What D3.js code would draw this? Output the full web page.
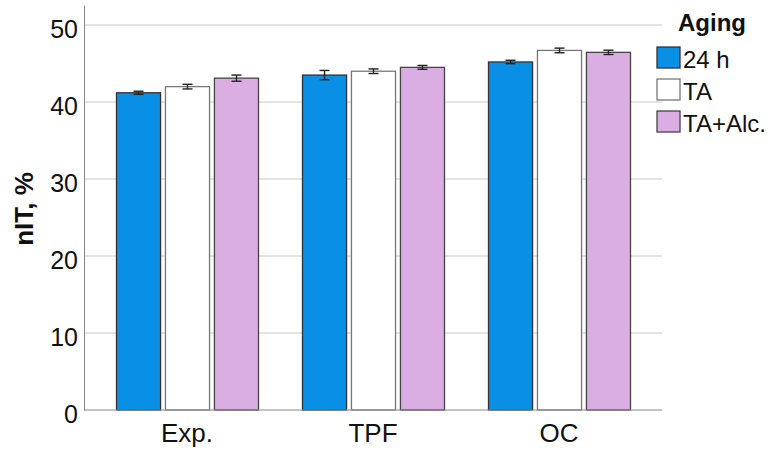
<!DOCTYPE html>
<html>
<head>
<meta charset="utf-8">
<script src="https://cdn.jsdelivr.net/npm/d3@7"></script>
<style>
  body { margin: 0; background: #fff; }
  text { font-family: "Liberation Sans", Arial, sans-serif; }
</style>
</head>
<body>
<svg width="776" height="454"></svg>
<script>
const categories = ['Exp.', 'TPF', 'OC']
const series = ['24 h', 'TA', 'TA+Alc.']
const values = [
  [41.2, 43.5, 45.2],
  [42.0, 44.0, 46.7],
  [43.1, 44.5, 46.45]
]
const errors = [
  [0.2, 0.6, 0.22],
  [0.3, 0.3, 0.3],
  [0.4, 0.25, 0.28]
]
const yTicks = [0, 10, 20, 30, 40, 50]
const colors = ['#0a8fe6', '#ffffff', '#dbaee3']
const strokes = ['#333', '#777', '#444']

const svg = d3.select('svg')
const margin = { top: 5, right: 114, bottom: 44, left: 84 },
      width = 776 - margin.left - margin.right,
      height = 454 - margin.top - margin.bottom

const chart = svg.append('g')
    .attr('transform', `translate(${margin.left},${margin.top})`)

const x0 = d3.scaleBand().domain(categories).range([10, width - 10])
const x1 = d3.scaleBand().domain(series).range([22, 164]).paddingInner(0.1)
const y = d3.scaleLinear().domain([0, 52.6]).range([height, 0])

// grid
chart.selectAll('.grid').data(yTicks.slice(1)).enter().append('line')
    .attr('x1', 0).attr('x2', width)
    .attr('y1', d => y(d)).attr('y2', d => y(d))
    .attr('stroke', '#c8c8c8').attr('stroke-width', 1)

// y labels
const yAxis = d3.axisLeft(y).tickValues(yTicks).tickSize(0).tickPadding(6)
const gy = chart.append('g').call(yAxis)
gy.select('.domain').attr('stroke', '#888')
gy.selectAll('text').attr('font-size', 25).attr('fill', '#111').attr('dy', '0.5em')
    .attr('font-family', '"Liberation Sans", Arial, sans-serif')

// bars
const rows = []
categories.forEach((c, ci) => series.forEach((s, si) => rows.push({ c, s, si, v: values[si][ci], e: errors[si][ci] })))

const g = chart.append('g')
g.selectAll('rect').data(rows).enter().append('rect')
    .attr('x', d => x0(d.c) + x1(d.s) + 0.5)
    .attr('y', d => y(d.v))
    .attr('width', x1.bandwidth())
    .attr('height', d => y(0) - y(d.v))
    .attr('fill', d => colors[d.si])
    .attr('stroke', d => strokes[d.si]).attr('stroke-width', 1.3)

// error bars
const eb = g.selectAll('.err').data(rows).enter().append('g')
    .attr('transform', d => `translate(${x0(d.c) + x1(d.s) + x1.bandwidth() / 2 + 0.5},0)`)
    .attr('stroke', '#222').attr('stroke-width', 1.4)
eb.append('line').attr('x1', 0).attr('x2', 0)
    .attr('y1', d => y(d.v + d.e)).attr('y2', d => y(d.v - d.e))
eb.append('line').attr('x1', -5).attr('x2', 5)
    .attr('y1', d => y(d.v + d.e)).attr('y2', d => y(d.v + d.e))
eb.append('line').attr('x1', -5).attr('x2', 5)
    .attr('y1', d => y(d.v - d.e)).attr('y2', d => y(d.v - d.e))

// x axis
const gx = chart.append('g').attr('transform', `translate(0,${height})`)
    .call(d3.axisBottom(x0).tickSize(0).tickPadding(14))
gx.select('.domain').attr('stroke', '#888').attr('d', `M0,0H${width}`)
gx.selectAll('text').attr('font-size', 26).attr('fill', '#111')
    .attr('font-family', '"Liberation Sans", Arial, sans-serif')

// y title
svg.append('text')
    .attr('transform', `translate(33,${margin.top + 204}) rotate(-90)`)
    .attr('text-anchor', 'middle')
    .attr('font-size', 26).attr('font-weight', 'bold').attr('fill', '#111')
    .text('nIT, %')

// legend
const lg = svg.append('g').attr('transform', 'translate(657,0)')
lg.append('text').attr('x', 21).attr('y', 31)
    .attr('font-size', 24).attr('font-weight', 'bold').attr('fill', '#111').text('Aging')
const li = lg.selectAll('.li').data(series).enter().append('g')
    .attr('transform', (d, i) => `translate(0,${47 + i * 32})`)
li.append('rect').attr('width', 23).attr('height', 21)
    .attr('fill', (d, i) => colors[i]).attr('stroke', (d, i) => strokes[i]).attr('stroke-width', 1.3)
li.append('text').attr('x', 26).attr('y', 21).attr('font-size', 24).attr('fill', '#111').text(d => d)
</script>
</body>
</html>
